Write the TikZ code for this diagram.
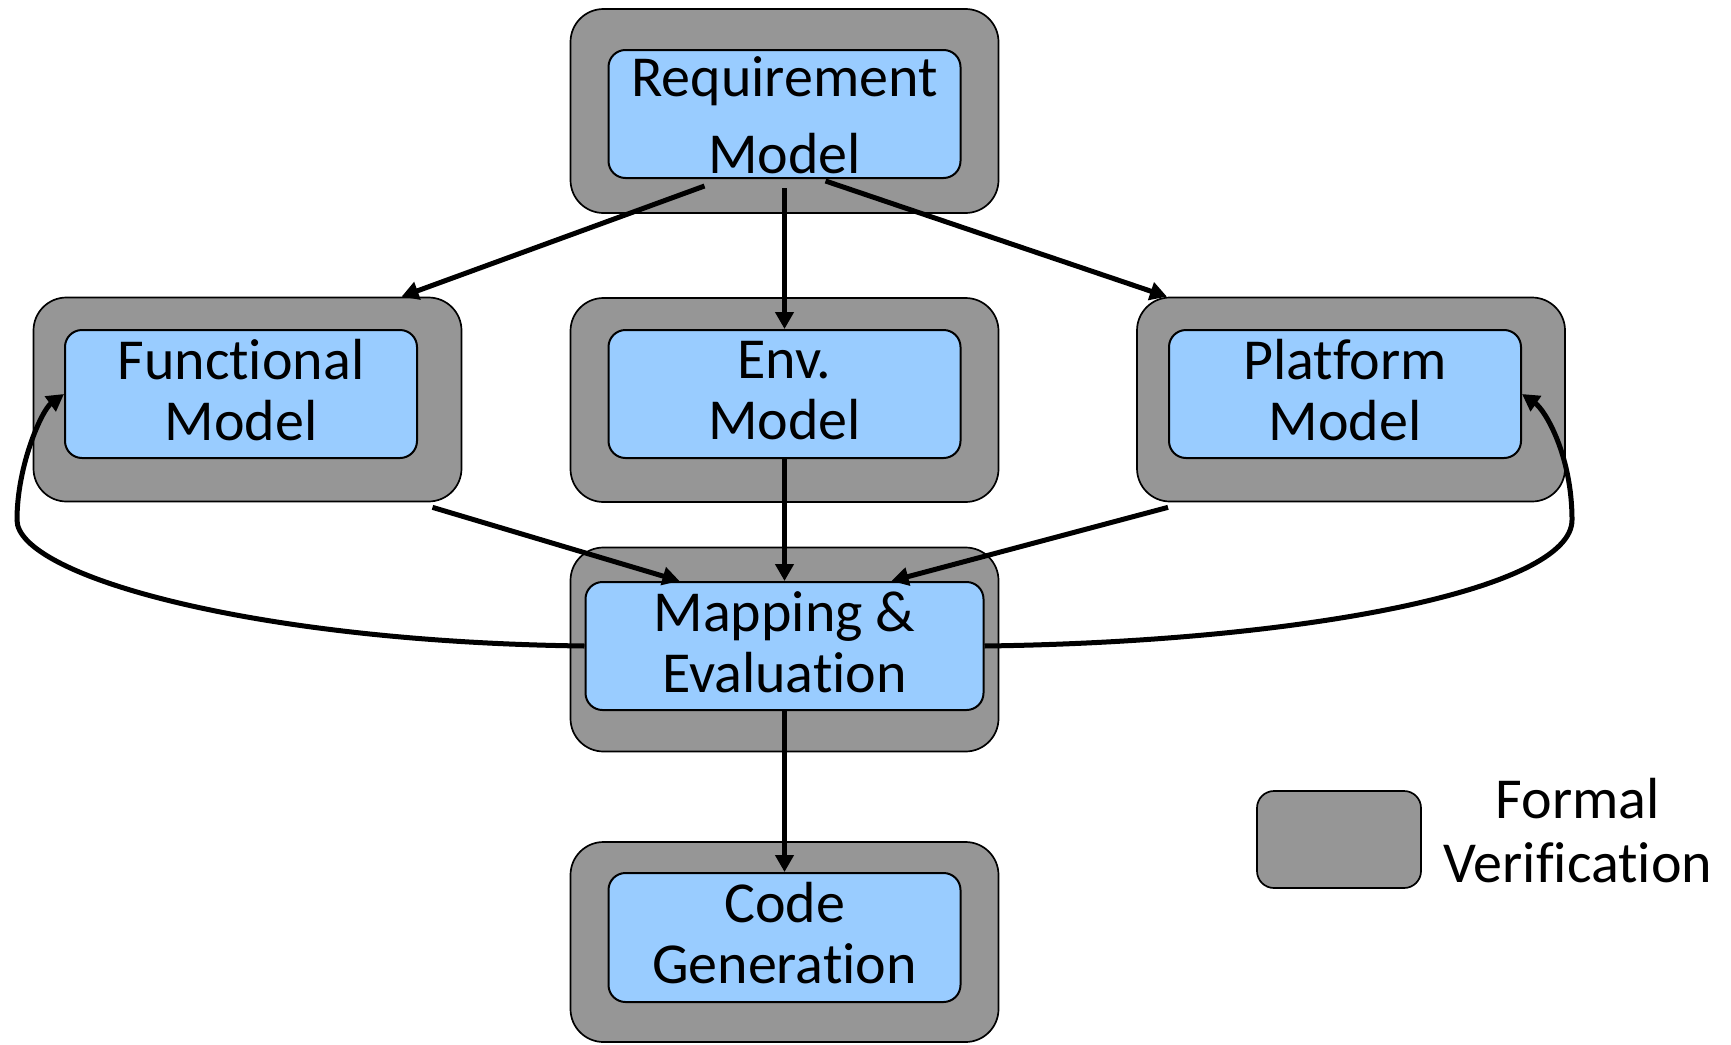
\documentclass[tikz,border=0pt]{standalone}
\usepackage{fontspec}
\setmainfont[Ligatures={NoCommon,NoContextual}]{Carlito}
\usetikzlibrary{arrows.meta,calc}
\definecolor{fvgray}{RGB}{150,150,150}
\definecolor{mblue}{RGB}{153,204,255}
% keeps two letters as separate glyphs
\newcommand{\nolig}{\kern0pt{}}
\begin{document}
\begin{tikzpicture}[x=1pt,y=-1pt,
  fvbox/.style={draw=black, line width=1.7pt, fill=fvgray, rounded corners=33pt,
    minimum width=428pt, minimum height=204pt, inner sep=0pt},
  mbox/.style={draw=black, line width=2pt, fill=mblue, rounded corners=17pt,
    minimum width=352pt, minimum height=128pt, inner sep=0pt},
  lbl/.style={font=\fontsize{58}{61}\selectfont, align=center, inner sep=0pt},
  flow/.style={line width=5pt, -{Triangle[length=17pt,width=18pt]}},
]
% canvas
\fill[white] (0,0) rectangle (1731,1044);
\useasboundingbox (0,0) rectangle (1731,1044);

% formal verification frames
\node[fvbox] (reqo)  at (784.5,111) {};
\node[fvbox] (funo)  at (247.5,399.5) {};
\node[fvbox] (envo)  at (784.5,400) {};
\node[fvbox] (plato) at (1351,399.5) {};
\node[fvbox] (mapo)  at (784.5,649.5) {};
\node[fvbox, minimum height=200pt] (codeo) at (784.5,942) {};

% model boxes
\node[mbox] (reqi)  at (784.5,114) {};
\node[mbox] (funi)  at (241,394) {};
\node[mbox] (envi)  at (784.5,394) {};
\node[mbox] (plati) at (1345,394) {};
\node[mbox, minimum width=398pt] (mapi) at (784.5,646) {};
\node[mbox, minimum height=129pt] (codei) at (784.5,937.5) {};

% labels
\node[lbl, font=\fontsize{58}{77}\selectfont] (reqt) at (784.5,115) {Requirement\\Model};
\node[lbl] (funt)  at (241,390) {Funct\nolig ional\\Model};
\node[lbl] (envt)  at (784.5,390.5) {Env.\\Model};
\node[lbl] (platt) at (1345,390) {Platform\\Model};
\node[lbl] (mapt)  at (784.5,642) {Mapping \&\\Evaluation};
\node[lbl] (codet) at (784.5,933) {Code\\Generat\nolig ion};

% legend
\node[draw=black, line width=1.7pt, fill=fvgray, rounded corners=17pt,
  minimum width=164pt, minimum height=97pt, inner sep=0pt] (leg) at (1339,839.5) {};
\node[lbl, font=\fontsize{58}{64}\selectfont] (legt) at (1578,831)
  {Formal\\Verif\nolig icat\nolig ion};

% flows
\draw[flow] ($(reqi.south)+(-80,7)$) -- ($(funo.north)+(154,0)$);
\draw[flow] ($(reqi.south)+(0,9)$) -- (envi.north);
\draw[flow] ($(reqi.south)+(41,2)$) -- ($(plato.north)+(-184,0)$);
\draw[flow] ($(funo.south)+(185,5)$) -- ($(mapi.north)+(-105,0)$);
\draw[flow] (envi.south) -- (mapi.north);
\draw[flow] ($(plato.south)+(-183,5)$) -- ($(mapi.north)+(107,0)$);
\draw[flow] (mapi.south) -- (codei.north);

% feedback loops
\coordinate (lbend) at (17,520);
\coordinate (rbend) at (1572,520);
\draw[flow] (mapi.west) .. controls (250,642) and (17,575) .. (lbend)
  .. controls (17,465) and (42,410) .. (funi.west);
\draw[flow] (mapi.east) .. controls (1300,642) and (1572,590) .. (rbend)
  .. controls (1572,455) and (1545,410) .. (plati.east);
\end{tikzpicture}
\end{document}
